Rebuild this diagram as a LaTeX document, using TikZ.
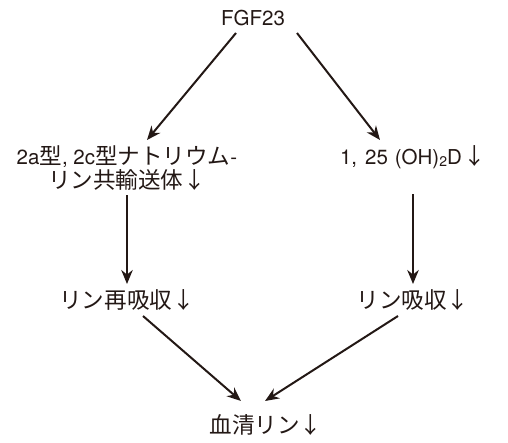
\documentclass[tikz,border=0pt]{standalone}
\usepackage{fontspec}
\setmainfont{TeX Gyre Heros}
\newfontfamily\jp[Scale=1.1]{Noto Sans CJK JP}
\usetikzlibrary{arrows.meta}
\definecolor{ink}{HTML}{231815}
\begin{document}
\begin{tikzpicture}[x=1pt,y=-1pt,
  lbl/.style={text=ink,font=\fontsize{20.5}{24.5}\selectfont,inner sep=1pt,align=center},
  arr/.style={draw=ink,line width=2pt,-{Stealth[length=14pt,width=11.5pt]}}]
\useasboundingbox (0,0) rectangle (508,442);
\node[lbl] (fgf) at (253,18) {FGF23};
\node[lbl] (nat) at (127,168) {2a{\jp 型}, 2c{\jp 型ナトリウム}-\\{\jp リン共輸送体↓}};
\node[lbl] (vd) at (413,157) {1,\hspace{8pt}25\hspace{7pt}(OH)\raisebox{-0.25ex}{\fontsize{14}{14}\selectfont 2}D\hspace{1.5pt}{\jp ↓}};
\node[lbl] (rre) at (127,300) {\jp リン再吸収↓};
\node[lbl] (rab) at (413,300) {\jp リン吸収↓};
\node[lbl] (ser) at (266,425) {\jp 血清リン↓};
\coordinate (a1s) at (236,33); \coordinate (a1e) at (147,140);
\coordinate (a2s) at (297,33); \coordinate (a2e) at (380,140);
\coordinate (a3s) at (127,195); \coordinate (a3e) at (127,284);
\coordinate (a4s) at (413,194); \coordinate (a4e) at (413,284);
\coordinate (a5s) at (143,316); \coordinate (a5e) at (241,401);
\coordinate (a6s) at (398,316); \coordinate (a6e) at (265,401);
\draw[arr] (a1s) -- (a1e);
\draw[arr] (a2s) -- (a2e);
\draw[arr] (a3s) -- (a3e);
\draw[arr] (a4s) -- (a4e);
\draw[arr] (a5s) -- (a5e);
\draw[arr] (a6s) -- (a6e);
\end{tikzpicture}
\end{document}
